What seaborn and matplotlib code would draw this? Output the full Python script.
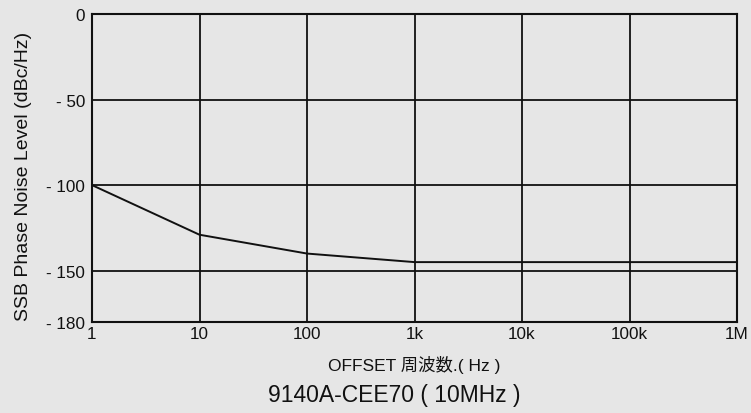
import matplotlib
matplotlib.use("Agg")
import matplotlib.pyplot as plt
import seaborn as sns
import pandas as pd

offset_hz = [1, 10, 100, 1000, 10000, 100000, 1000000]
noise_dbc = [-100, -129, -140, -145, -145, -145, -145]
x_ticks = [1, 10, 100, 1000, 10000, 100000, 1000000]
x_tick_labels = ["1", "10", "100", "1k", "10k", "100k", "1M"]
y_ticks = [0, -50, -100, -150, -180]
y_tick_labels = ["0", "- 50", "- 100", "- 150", "- 180"]

sns.set_theme(style="white")
plt.rcParams["font.family"] = ["Liberation Sans", "Noto Sans CJK JP", "DejaVu Sans"]

bg = "#e6e6e6"
fig = plt.figure(figsize=(7.51, 4.14), dpi=100, facecolor=bg)
ax = fig.add_axes([92/751, 1-323/414, (737-92)/751, (323-15)/414])
ax.set_facecolor(bg)

df = pd.DataFrame({"offset": offset_hz, "noise": noise_dbc})
sns.lineplot(data=df, x="offset", y="noise", ax=ax, color="#111111", linewidth=1.4)

ax.set_xscale("log")
ax.set_xlim(1, 1e6)
ax.set_ylim(-180, 0)
ax.set_xticks(x_ticks)
ax.set_xticklabels(x_tick_labels)
ax.set_yticks(y_ticks)
ax.set_yticklabels(y_tick_labels)
ax.minorticks_off()
ax.tick_params(axis="both", length=0, labelsize=12.3, colors="#111111")
ax.tick_params(axis="y", pad=5)
ax.tick_params(axis="x", pad=3)

for t in x_ticks:
    ax.axvline(t, color="#111111", linewidth=1.3, zorder=1)
for t in [-50, -100, -150]:
    ax.axhline(t, color="#111111", linewidth=1.3, zorder=1)
for s in ax.spines.values():
    s.set_color("#111111")
    s.set_linewidth(1.5)
    s.set_visible(True)

ax.set_xlabel("OFFSET 周波数.( Hz )", fontsize=12.5, color="#111111", labelpad=10)
ax.set_ylabel("SSB Phase Noise Level (dBc/Hz)", fontsize=14, color="#111111")
ax.yaxis.set_label_coords((32-92)/645, 1-(176-15)/308)
fig.text(394/751, 1-396/414, "9140A-CEE70 ( 10MHz )", fontsize=16.5, color="#111111",
         ha="center", va="center")

fig.savefig("out.png", dpi=100, facecolor=bg)
